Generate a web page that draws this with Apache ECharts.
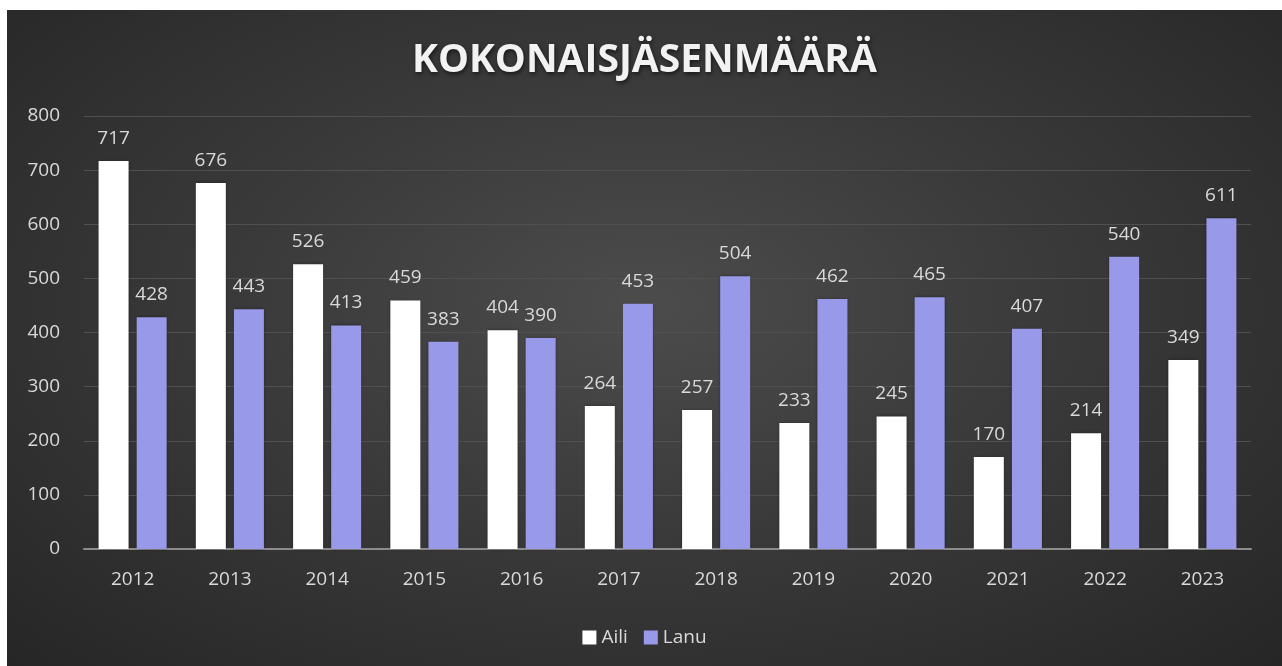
<!DOCTYPE html>
<html><head><meta charset="utf-8">
<script src="https://cdn.jsdelivr.net/npm/echarts@6/dist/echarts.min.js"></script>
<style>
html,body{margin:0;padding:0;background:#fff;width:1282px;height:666px;overflow:hidden;}
#c{position:absolute;left:7px;top:10px;width:1275px;height:656px;
background:radial-gradient(ellipse at 50% 45%, #4c4c4c 0%, #3a3a3a 45%, #262626 100%);}
</style></head>
<body><div id="c"></div>
<script>
const title = 'KOKONAISJÄSENMÄÄRÄ';
const categories = ['2012','2013','2014','2015','2016','2017','2018','2019','2020','2021','2022','2023'];
const aili = [717,676,526,459,404,264,257,233,245,170,214,349];
const lanu = [428,443,413,383,390,453,504,462,465,407,540,611];
const yTicks = {min:0, max:800, interval:100};

const chart = echarts.init(document.getElementById('c'), null, {renderer:'canvas'});
const txt = '#d9d9d9';
const font = '"Open Sans", sans-serif';
chart.setOption({
  backgroundColor:'transparent',
  animation:false,
  title:{text:title,left:'center',top:26,
    textStyle:{color:'#f2f2f2',fontSize:39,fontWeight:'bold',fontFamily:font,
      textShadowColor:'rgba(0,0,0,0.6)',textShadowBlur:4,textShadowOffsetX:1,textShadowOffsetY:2}},
  legend:{bottom:14,left:'center',itemWidth:14,itemHeight:14,itemGap:16,icon:'rect',
    textStyle:{color:txt,fontSize:19,fontFamily:font},data:['Aili','Lanu']},
  grid:{left:77,right:31,top:106,bottom:117,containLabel:false},
  xAxis:{type:'category',data:categories,
    axisLine:{lineStyle:{color:'#8c8c8c',width:2}},axisTick:{show:false},
    axisLabel:{color:txt,fontSize:19,fontFamily:font,margin:21}},
  yAxis:{type:'value',min:yTicks.min,max:yTicks.max,interval:yTicks.interval,
    axisLine:{show:false},axisTick:{show:false},
    splitLine:{lineStyle:{color:'#505050',width:1}},
    axisLabel:{color:txt,fontSize:19,fontFamily:font,margin:24}},
  series:[
    {name:'Aili',type:'bar',data:aili,barGap:'27%',barCategoryGap:'30%',
     itemStyle:{color:'#ffffff',shadowColor:'rgba(0,0,0,0.4)',shadowBlur:3},
     label:{show:true,position:'top',distance:13,color:txt,fontSize:19,fontFamily:font}},
    {name:'Lanu',type:'bar',data:lanu,
     itemStyle:{color:'#9999ea',shadowColor:'rgba(0,0,0,0.4)',shadowBlur:3},
     label:{show:true,position:'top',distance:13,color:txt,fontSize:19,fontFamily:font}}
  ]
});
</script></body></html>
